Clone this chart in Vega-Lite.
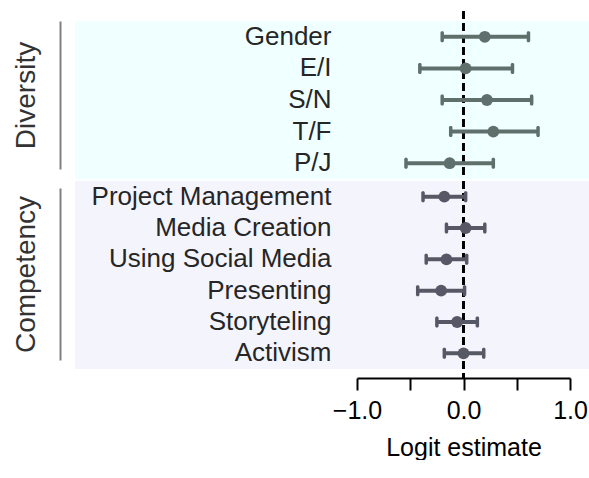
{
  "$schema": "https://vega.github.io/schema/vega-lite/v6.json",
  "padding": {"left": 12, "top": 10, "right": 0, "bottom": 0},
  "config": {
    "font": "Liberation Sans",
    "view": {"stroke": null},
    "concat": {"spacing": 0}
  },
  "datasets": {
    "est": [
      {"group": "Diversity", "item": "Gender", "estimate": 0.20, "lo": -0.20, "hi": 0.61},
      {"group": "Diversity", "item": "E/I", "estimate": 0.02, "lo": -0.41, "hi": 0.46},
      {"group": "Diversity", "item": "S/N", "estimate": 0.22, "lo": -0.20, "hi": 0.64},
      {"group": "Diversity", "item": "T/F", "estimate": 0.28, "lo": -0.12, "hi": 0.70},
      {"group": "Diversity", "item": "P/J", "estimate": -0.13, "lo": -0.54, "hi": 0.28},
      {"group": "Competency", "item": "Project Management", "estimate": -0.18, "lo": -0.38, "hi": 0.02},
      {"group": "Competency", "item": "Media Creation", "estimate": 0.02, "lo": -0.16, "hi": 0.20},
      {"group": "Competency", "item": "Using Social Media", "estimate": -0.16, "lo": -0.35, "hi": 0.03},
      {"group": "Competency", "item": "Presenting", "estimate": -0.21, "lo": -0.43, "hi": 0.01},
      {"group": "Competency", "item": "Storyteling", "estimate": -0.06, "lo": -0.25, "hi": 0.13},
      {"group": "Competency", "item": "Activism", "estimate": 0.00, "lo": -0.18, "hi": 0.19}
    ]
  },
  "vconcat": [
    {
      "width": 514,
      "height": 158,
      "view": {"fill": "#f0ffff", "stroke": null},
      "data": {"name": "est"},
      "transform": [{"filter": "datum.group == 'Diversity'"}],
      "resolve": {"scale": {"y": "independent"}},
      "layer": [
        {
          "mark": {"type": "point", "opacity": 0},
          "encoding": {
            "y": {"field": "group", "type": "nominal", "scale": {"range": [0, 148]},
              "axis": {"orient": "left", "offset": 15, "title": "Diversity", "labels": false, "ticks": false,
                "domainColor": "#808080", "domainWidth": 2, "titleFontSize": 28, "titleFontWeight": "normal",
                "titleColor": "#333333", "titlePadding": 20}}
          }
        },
        {
          "mark": {"type": "rule", "strokeDash": [8, 4], "strokeWidth": 2, "color": "black"},
          "encoding": {
            "x": {"datum": 0, "type": "quantitative", "scale": {"domain": [-1, 1], "range": [282, 495], "nice": false, "zero": false}, "axis": null},
            "y": {"datum": 0, "type": "quantitative", "scale": {"domain": [0, 1], "range": [-10, 158]}, "axis": null},
            "y2": {"datum": 1}
          }
        },
        {
          "encoding": {
            "y": {"field": "item", "type": "nominal", "sort": null, "scale": {"paddingInner": 0, "paddingOuter": 0},
              "axis": {"orient": "left", "title": null, "domain": false, "ticks": false, "tickSize": 0, "labelPadding": -256,
                "labelFontSize": 26, "labelColor": "#262626", "labelLimit": 400}}
          },
          "layer": [
            {
              "mark": {"type": "rule", "strokeWidth": 4, "color": "#5f706c"},
              "encoding": {"x": {"field": "lo", "type": "quantitative", "scale": {"domain": [-1, 1], "range": [282, 495], "nice": false, "zero": false}, "axis": null}, "x2": {"field": "hi"}}
            },
            {
              "mark": {"type": "tick", "size": 11, "thickness": 3.5, "cornerRadius": 1.5, "color": "#5f706c", "opacity": 1},
              "encoding": {"x": {"field": "lo", "type": "quantitative", "scale": {"domain": [-1, 1], "range": [282, 495], "nice": false, "zero": false}, "axis": null}}
            },
            {
              "mark": {"type": "tick", "size": 11, "thickness": 3.5, "cornerRadius": 1.5, "color": "#5f706c", "opacity": 1},
              "encoding": {"x": {"field": "hi", "type": "quantitative", "scale": {"domain": [-1, 1], "range": [282, 495], "nice": false, "zero": false}, "axis": null}}
            },
            {
              "mark": {"type": "circle", "size": 140, "color": "#5f706c", "opacity": 1},
              "encoding": {"x": {"field": "estimate", "type": "quantitative", "scale": {"domain": [-1, 1], "range": [282, 495], "nice": false, "zero": false}, "axis": null}}
            }
          ]
        }
      ]
    },
    {
      "width": 514,
      "height": 188,
      "view": {"fill": "#f4f4fd", "stroke": null},
      "data": {"name": "est"},
      "transform": [{"filter": "datum.group == 'Competency'"}],
      "resolve": {"scale": {"y": "independent"}},
      "layer": [
        {
          "mark": {"type": "point", "opacity": 0},
          "encoding": {
            "y": {"field": "group", "type": "nominal", "scale": {"range": [7, 179]},
              "axis": {"orient": "left", "offset": 15, "title": "Competency", "labels": false, "ticks": false,
                "domainColor": "#808080", "domainWidth": 2, "titleFontSize": 28, "titleFontWeight": "normal",
                "titleColor": "#333333", "titlePadding": 20}}
          }
        },
        {
          "mark": {"type": "rule", "strokeDash": [8, 4], "strokeWidth": 2, "color": "black"},
          "encoding": {
            "x": {"datum": 0, "type": "quantitative", "title": "Logit estimate",
              "scale": {"domain": [-1, 1], "range": [282, 495], "nice": false, "zero": false},
              "axis": {"values": [-1, -0.5, 0, 0.5, 1], "format": ".1f", "labelExpr": "abs(datum.value) == 0.5 ? '' : datum.label",
                "offset": 9, "grid": false, "tickSize": 12, "tickWidth": 2, "tickColor": "black", "domainColor": "black", "domainWidth": 2,
                "labelFontSize": 25, "labelColor": "black", "labelPadding": 8, "labelFlush": false, "labelOverlap": false,
                "titleFontSize": 25, "titleFontWeight": "normal", "titleColor": "black", "titlePadding": 12}},
            "y": {"datum": 0, "type": "quantitative", "scale": {"domain": [0, 1], "range": [0, 198]}, "axis": null},
            "y2": {"datum": 1}
          }
        },
        {
          "encoding": {
            "y": {"field": "item", "type": "nominal", "sort": null, "scale": {"paddingInner": 0, "paddingOuter": 0},
              "axis": {"orient": "left", "title": null, "domain": false, "ticks": false, "tickSize": 0, "labelPadding": -256,
                "labelFontSize": 26, "labelColor": "#262626", "labelLimit": 400}}
          },
          "layer": [
            {
              "mark": {"type": "rule", "strokeWidth": 4, "color": "#575866"},
              "encoding": {"x": {"field": "lo", "type": "quantitative", "title": "Logit estimate", "scale": {"domain": [-1, 1], "range": [282, 495], "nice": false, "zero": false}}, "x2": {"field": "hi"}}
            },
            {
              "mark": {"type": "tick", "size": 11, "thickness": 3.5, "cornerRadius": 1.5, "color": "#575866", "opacity": 1},
              "encoding": {"x": {"field": "lo", "type": "quantitative", "title": "Logit estimate", "scale": {"domain": [-1, 1], "range": [282, 495], "nice": false, "zero": false}}}
            },
            {
              "mark": {"type": "tick", "size": 11, "thickness": 3.5, "cornerRadius": 1.5, "color": "#575866", "opacity": 1},
              "encoding": {"x": {"field": "hi", "type": "quantitative", "title": "Logit estimate", "scale": {"domain": [-1, 1], "range": [282, 495], "nice": false, "zero": false}}}
            },
            {
              "mark": {"type": "circle", "size": 140, "color": "#575866", "opacity": 1},
              "encoding": {"x": {"field": "estimate", "type": "quantitative", "title": "Logit estimate", "scale": {"domain": [-1, 1], "range": [282, 495], "nice": false, "zero": false}}}
            }
          ]
        }
      ]
    }
  ]
}
